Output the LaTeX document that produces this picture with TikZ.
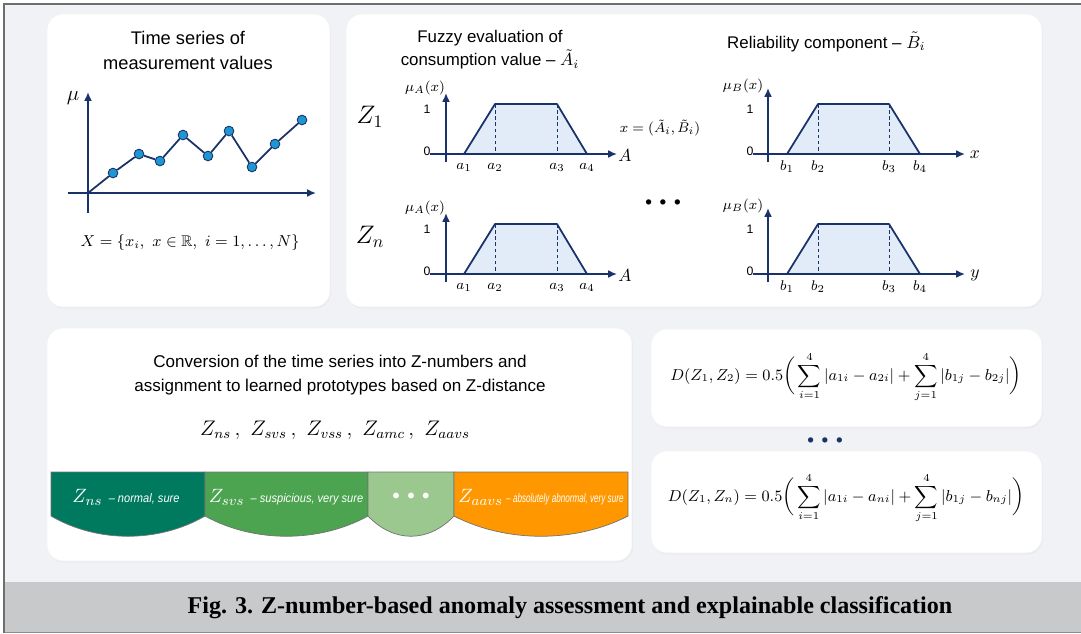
\documentclass[tikz,border=0pt]{standalone}
\usepackage{amsmath, amssymb}
\usepackage{fontspec}
\setsansfont{Liberation Sans}
\newfontfamily\capfont{Liberation Serif}
\newfontfamily\bandfont[FakeStretch=0.9]{Liberation Sans}
\newfontfamily\bandtight[FakeStretch=0.66]{Liberation Sans}
\usetikzlibrary{arrows.meta, positioning, shadows}
\definecolor{navy}{RGB}{25, 50, 105}
\definecolor{pagebg}{RGB}{241, 242, 245}
\definecolor{trapfill}{RGB}{225, 236, 248}
\definecolor{dotblue}{RGB}{30, 150, 210}
\definecolor{zdark}{RGB}{0, 122, 94}
\definecolor{zmid}{RGB}{76, 163, 80}
\definecolor{zlight}{RGB}{155, 200, 142}
\definecolor{zorange}{RGB}{255, 152, 0}
\definecolor{capgray}{RGB}{200, 201, 203}
\definecolor{framegray}{RGB}{110, 110, 110}

\begin{document}
\begin{tikzpicture}[
  x=0.02cm, y=-0.02cm,
  panel/.style={fill=white, draw=black!5, rounded corners=9pt, drop shadow={opacity=0.07, shadow xshift=0.5pt, shadow yshift=-0.8pt}},
  axis/.style={navy, line width=1pt, -{Latex[length=5pt, width=4.5pt]}},
  series/.style={navy, line width=1pt},
  pt/.style={circle, fill=dotblue, draw=navy, line width=0.5pt, inner sep=0pt, minimum size=5.5pt},
  trapline/.style={navy, line width=1pt, line join=round},
  guide/.style={navy, line width=0.5pt, dash pattern=on 2pt off 1.5pt},
  title/.style={font=\sffamily\fontsize{10.4}{14.2}\selectfont, align=center},
  subtitle/.style={font=\sffamily\fontsize{9.6}{13}\selectfont, align=center},
  tick/.style={font=\sffamily\fontsize{7}{8}\selectfont, inner sep=1pt},
  lab/.style={font=\fontsize{8.5}{9}\selectfont, inner sep=1pt},
  zlab/.style={font=\fontsize{14}{16}\selectfont, inner sep=1pt},
  band/.style={draw=black!55, line width=0.4pt},
  bandtext/.style={text=white, inner sep=1pt, font=\fontsize{11}{13}\selectfont},
  formula/.style={font=\fontsize{9}{11}\selectfont, inner sep=2pt}
]
  \useasboundingbox (0,0) rectangle (1081,633);

  % page, frame and caption band
  \fill[white] (0,0) rectangle (1081,633);
  \fill[pagebg] (4,4) rectangle (1081,582);
  \fill[capgray] (4,582) rectangle (1081,633);
  \draw[black!45, line width=0.4pt] (4,632) -- (1081,632);
  \draw[framegray, line width=1.4pt] (4,633) -- (4,4) -- (1081,4);
  \node[font=\capfont\bfseries\fontsize{13.7}{16}\selectfont] (caption) at (570,608)
    {Fig. 3. Z-number-based anomaly assessment and explainable classification};

  % panels
  \path[panel] (47,14) rectangle (330,307);
  \path[panel] (346,14) rectangle (1042,307);
  \path[panel] (47,328) rectangle (632,561);
  \path[panel] (651,329) rectangle (1042,427);
  \path[panel] (651,451) rectangle (1042,553);

  % time series
  \node[title] (tstitle) at (188,50) {Time series of\\measurement values};
  \draw[axis] (68,193) -- (316,193);
  \draw[axis] (88,213) -- (88,92);
  \node[font=\fontsize{13}{15}\selectfont] (mu) at (73,98) {$\mu$};
  \coordinate (o) at (88,193);
  \foreach \px/\py [count=\k] in {113/173, 139/154, 160/161, 183/135, 208/156, 229/131, 252/167, 275/144, 302/120}
    \node[pt] (p\k) at (\px,\py) {};
  \draw[series] (o) -- (p1) -- (p2) -- (p3) -- (p4) -- (p5) -- (p6) -- (p7) -- (p8) -- (p9);
  \node[font=\fontsize{8.8}{11}\selectfont] (xset) at (190,243) {$X = \{x_i,\ x \in \mathbb{R},\ i = 1, \ldots, N\}$};

  % fuzzy components
  \node[subtitle] (atitle) at (490,50) {Fuzzy evaluation of\\consumption value – $\tilde{A}_i$};
  \node[subtitle, anchor=west] (btitle) at (721,42) {Reliability component – $\tilde{B}_i$};

  \foreach \dy/\row/\yl in {0/1/x, 120/n/y} {
    \node[zlab] (z\row) at (370,117+\dy) {$Z_\row$};
    % consumption value
    \fill[trapfill] (464,154+\dy) -- (495,104+\dy) -- (557,104+\dy) -- (587,154+\dy) -- cycle;
    \draw[trapline] (464,154+\dy) -- (495,104+\dy) -- (557,104+\dy) -- (587,154+\dy);
    \draw[guide] (495,104+\dy) -- (495,154+\dy) (557,104+\dy) -- (557,154+\dy);
    \draw[axis] (430,154+\dy) -- (617,154+\dy);
    \draw[axis] (446,162+\dy) -- (446,93+\dy);
    \node[tick] (a0\row) at (427,151+\dy) {0};
    \node[tick] (a1\row) at (427,109+\dy) {1};
    \node[lab, font=\fontsize{8}{9}\selectfont] (mua\row) at (425,88+\dy) {$\mu_A(x)$};
    \node[lab, font=\fontsize{10}{12}\selectfont] (axa\row) at (625,155+\dy) {$A$};
    \foreach \xa [count=\k] in {464, 495, 557, 587}
      \node[lab] (a\row-\k) at (\xa,167+\dy) {$a_\k$};
    % reliability
    \fill[trapfill] (787,154+\dy) -- (818,104+\dy) -- (889,104+\dy) -- (920,154+\dy) -- cycle;
    \draw[trapline] (787,154+\dy) -- (818,104+\dy) -- (889,104+\dy) -- (920,154+\dy);
    \draw[guide] (818,104+\dy) -- (818,154+\dy) (889,104+\dy) -- (889,154+\dy);
    \draw[axis] (753,154+\dy) -- (965,154+\dy);
    \draw[axis] (768,162+\dy) -- (768,88+\dy);
    \node[tick] (b0\row) at (750,151+\dy) {0};
    \node[tick] (b1\row) at (750,109+\dy) {1};
    \node[lab, font=\fontsize{8}{9}\selectfont] (mub\row) at (743,86+\dy) {$\mu_B(x)$};
    \node[lab, font=\fontsize{10}{12}\selectfont] (axb\row) at (975,155+\dy) {$\yl$};
    \foreach \xb [count=\k] in {787, 818, 889, 920}
      \node[lab] (b\row-\k) at (\xb,167+\dy) {$b_\k$};
  }
  \node[lab, font=\fontsize{8}{9}\selectfont] (pair) at (660,128) {$x = (\tilde{A}_i, \tilde{B}_i)$};
  \node[font=\fontsize{7}{8}\selectfont] (zdots) at (663,203) {$\bullet\;\bullet\;\bullet$};

  % conversion into Z-numbers
  \node[subtitle, font=\sffamily\fontsize{9.7}{13.6}\selectfont] (ctitle) at (340,375)
    {Conversion of the time series into Z-numbers and\\assignment to learned prototypes based on Z-distance};
  \node[font=\fontsize{11.5}{13}\selectfont] (zlist) at (335,430) {$Z_{ns}\,,\ Z_{svs}\,,\ Z_{vss}\,,\ Z_{amc}\,,\ Z_{aavs}$};
  \foreach \xl/\xr/\col in {51/205/zdark, 205/368/zmid, 368/454/zlight, 454/628/zorange}
    \filldraw[band, fill=\col] (\xl,472) -- (\xr,472) -- (\xr,516)
      .. controls ({\xr-0.3*(\xr-\xl)},543) and ({\xl+0.3*(\xr-\xl)},543) .. (\xl,516) -- cycle;
  \node[bandtext] (zns) at (126,497) {$Z_{ns}$ {\bandfont\itshape\fontsize{7}{9}\selectfont – normal, sure}};
  \node[bandtext] (zsvs) at (286,497) {$Z_{svs}$ {\bandfont\itshape\fontsize{7}{9}\selectfont – suspicious, very sure}};
  \node[bandtext, font=\fontsize{8}{9}\selectfont] (zmore) at (411,496) {$\bullet\;\bullet\;\bullet$};
  \node[bandtext] (zaavs) at (541,497) {$Z_{aavs}$\,{\bandtight\itshape\fontsize{7}{9}\selectfont – absolutely abnormal, very sure}};

  % Z-distance
  \node[formula] (d12) at (846,377) {$\displaystyle D(Z_1, Z_2) = 0.5 \biggl(\, \sum_{i=1}^{4} |a_{1i} - a_{2i}| + \sum_{j=1}^{4} |b_{1j} - b_{2j}| \biggr)$};
  \node[navy, font=\fontsize{7}{8}\selectfont] (ddots) at (825,441) {$\bullet\;\bullet\;\bullet$};
  \node[formula] (d1n) at (846,498) {$\displaystyle D(Z_1, Z_n) = 0.5 \biggl(\, \sum_{i=1}^{4} |a_{1i} - a_{ni}| + \sum_{j=1}^{4} |b_{1j} - b_{nj}| \biggr)$};
\end{tikzpicture}
\end{document}
